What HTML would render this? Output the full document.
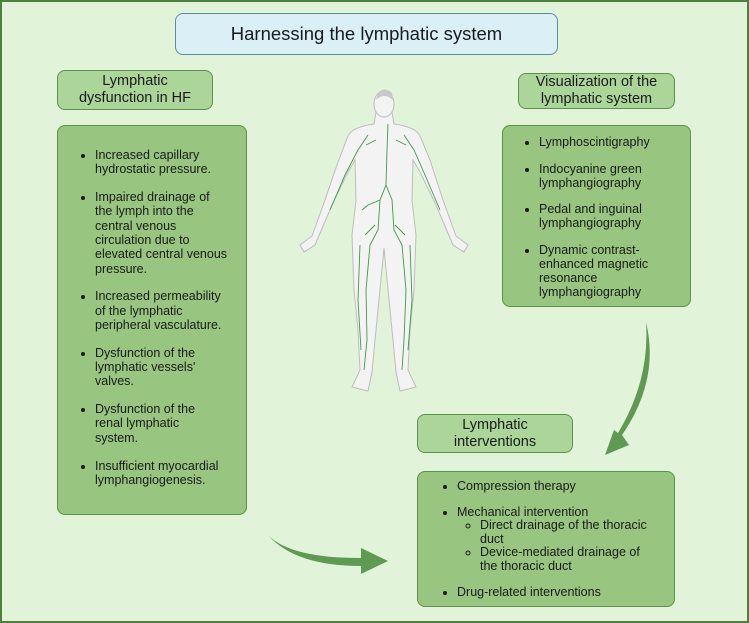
<!DOCTYPE html>
<html><head><meta charset="utf-8"><style>
*{margin:0;padding:0;box-sizing:border-box}
body{width:749px;height:623px;overflow:hidden;background:#fff;font-family:"Liberation Sans",sans-serif;color:#1a1a1a}
#f{position:absolute;left:0;top:0;width:749px;height:623px;background:#e1f4d9;border:2px solid #4f7f3f}
.b{position:absolute;border:1.5px solid #5e8f4b;border-radius:8px}
.h{background:#acd59a;text-align:center;font-size:14.5px;line-height:17px;display:flex;align-items:center;justify-content:center}
.g{background:#98c57f;font-size:12.5px;line-height:14.3px;white-space:nowrap}
ul{list-style:disc;padding-left:0}
li{margin-bottom:13.5px}
li:last-child{margin-bottom:0}
ul.s{list-style:circle;padding-left:23px;margin-top:0}
ul.s li{margin-bottom:0}
svg{position:absolute;left:0;top:0}
</style></head><body><div id="f"></div>
<div class="b" style="left:175px;top:13px;width:383px;height:42px;background:#daf0f6;border-color:#5b8da0;font-size:18.5px;display:flex;align-items:center;justify-content:center">Harnessing the lymphatic system</div>
<div class="b h" style="left:57px;top:70px;width:156px;height:40px">Lymphatic<br>dysfunction in HF</div>
<div class="b h" style="left:518px;top:73px;width:157px;height:36px">Visualization of the<br>lymphatic system</div>
<div class="b h" style="left:417px;top:414px;width:156px;height:39px">Lymphatic<br>interventions</div>
<div class="b g" style="left:57px;top:125px;width:190px;height:390px;padding:22px 4px 0 37px">
<ul><li>Increased capillary<br>hydrostatic pressure.</li><li>Impaired drainage of<br>the lymph into the<br>central venous<br>circulation due to<br>elevated central venous<br>pressure.</li><li>Increased permeability<br>of the lymphatic<br>peripheral vasculature.</li><li>Dysfunction of the<br>lymphatic vessels'<br>valves.</li><li>Dysfunction of the<br>renal lymphatic<br>system.</li><li>Insufficient myocardial<br>lymphangiogenesis.</li></ul></div>
<div class="b g" style="left:502px;top:125px;width:189px;height:182px;padding:9px 4px 0 36px;line-height:14px">
<ul><li style="margin-bottom:12.5px">Lymphoscintigraphy</li><li style="margin-bottom:12.5px">Indocyanine green<br>lymphangiography</li><li style="margin-bottom:12.5px">Pedal and inguinal<br>lymphangiography</li><li>Dynamic contrast-<br>enhanced magnetic<br>resonance<br>lymphangiography</li></ul></div>
<div class="b g" style="left:417px;top:471px;width:258px;height:136px;padding:8px 4px 0 39px;line-height:13.4px">
<ul><li style="margin-bottom:12.5px">Compression therapy</li><li style="margin-bottom:13.5px">Mechanical intervention<ul class="s"><li>Direct drainage of the thoracic<br>duct</li><li>Device-mediated drainage of<br>the thoracic duct</li></ul></li><li>Drug-related interventions</li></ul></div>
<svg width="749" height="623">
<path d="M376,112 L374,124 Q352,127 348,136 L338,162 L325,200 L312,236 L300,245 L304,252 L315,245 L332,205 L348,172 L355,160 L356,200 L352,235 L354,290 L358,330 L360,370 L352,387 L368,391 L372,372 L376,330 L380,290 L384,248 L388,290 L392,330 L396,372 L400,391 L416,387 L408,370 L410,330 L414,290 L416,235 L412,200 L413,160 L420,172 L436,205 L453,245 L464,252 L468,245 L456,236 L443,200 L430,160 L420,136 Q416,127 394,124 L392,112 Z" fill="#f3f3f3" stroke="#bdbdbd" stroke-width="1"/>
<ellipse cx="384" cy="104" rx="10" ry="13" fill="#f3f3f3" stroke="#bdbdbd"/>
<path d="M378,93 Q384,86 392,93 L393,100 Q384,92 376,100Z" fill="#c8c8c8"/>
<g fill="none" stroke="#3f9a45" stroke-width="0.9">
<path d="M388,124 L387,150 L386,185 L380,200 L378,230 L370,245 L366,290 L367,340 L364,370"/>
<path d="M386,185 L392,200 L394,230 L402,245 L406,290 L404,340 L402,370"/>
<path d="M368,135 L358,150 L345,175 L330,210"/><path d="M404,135 L414,150 L425,175 L440,210"/>
<path d="M380,200 L368,205 L362,210"/><path d="M360,245 L358,300 L361,350"/><path d="M410,245 L412,300 L408,350"/>
<path d="M376,140 L366,145 M396,140 L406,145 M375,225 L365,235 M395,225 L405,235"/>
</g>
<g fill="#5f9a52">
<path d="M268,535 Q290,558 361,558 L361,548 L388,561 L361,574 L361,566 Q295,566 268,535Z"/>
<path d="M646,322 Q660,380 622,435 L629,445 L605,455 L614,430 L618,433 Q650,380 646,322Z"/>
</g>
</svg>
</body></html>
